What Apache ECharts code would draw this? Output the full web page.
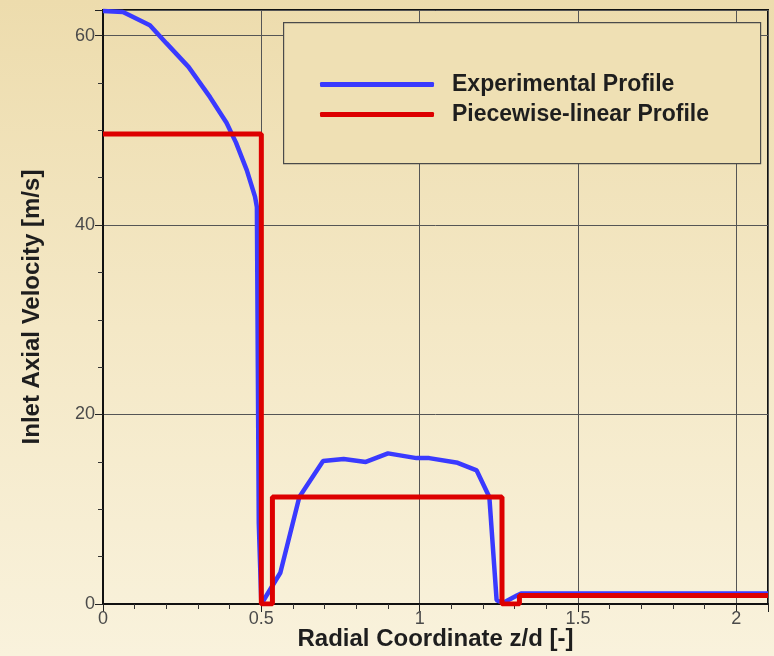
<!DOCTYPE html>
<html>
<head>
<meta charset="utf-8">
<script src="https://cdn.jsdelivr.net/npm/echarts@6/dist/echarts.min.js"></script>
<style>
html,body{margin:0;padding:0;}
#chart{width:774px;height:656px;}
</style>
</head>
<body>
<div id="chart"></div>
<script>
// Data
const seriesNames = ['Experimental Profile', 'Piecewise-linear Profile'];
const expX = [0, 0.063, 0.148, 0.20, 0.27, 0.338, 0.39, 0.42, 0.454, 0.48, 0.486, 0.489, 0.492, 0.50, 0.505, 0.56, 0.62, 0.695, 0.76, 0.83, 0.90, 0.99, 1.03, 1.12, 1.18, 1.22, 1.243, 1.263, 1.307, 1.32, 2.1];
const expY = [62.6, 62.5, 61.1, 59.2, 56.7, 53.5, 50.8, 48.7, 45.8, 43.0, 41.9, 25, 8.5, 0, 0.2, 3.3, 11.3, 15.1, 15.3, 15.0, 15.9, 15.4, 15.4, 14.9, 14.1, 11.3, 0.4, 0.1, 0.9, 1.1, 1.1];
const pwX = [0, 0.5, 0.5, 0.535, 0.535, 1.26, 1.26, 1.315, 1.315, 2.1];
const pwY = [49.6, 49.6, 0, 0, 11.3, 11.3, 0, 0, 0.9, 0.9];
const xTickLabels = ['0', '0.5', '1', '1.5', '2'];
const yTickLabels = ['0', '20', '40', '60'];

const font = '"Liberation Sans", Arial, sans-serif';
const chart = echarts.init(document.getElementById('chart'));
const zip = (xs, ys) => xs.map((x, i) => [x, ys[i]]);

chart.setOption({
  animation: false,
  backgroundColor: {
    type: 'linear', x: 0, y: 0, x2: 0, y2: 1,
    colorStops: [{offset: 0, color: '#eddcad'}, {offset: 0.5, color: '#f4e8c6'}, {offset: 1, color: '#f9f2dc'}]
  },
  grid: {left: 103, right: 6, top: 10, bottom: 52, outerBoundsMode: 'none', containLabel: false,
    show: true, borderColor: '#111', borderWidth: 2, backgroundColor: 'transparent'},
  graphic: [{
    type: 'rect', left: 283, top: 22, z: 5,
    shape: {width: 477, height: 141},
    style: {fill: '#efe0b4', stroke: '#4a4a4a', lineWidth: 1.2}
  }],
  legend: {
    orient: 'vertical', left: 315, top: 68, z: 10,
    itemWidth: 114, itemHeight: 5, itemGap: 7, icon: 'roundRect',
    textStyle: {fontFamily: font, fontWeight: 'bold', fontSize: 23, lineHeight: 23, color: '#1e1e1e', padding: [0, 0, 0, 13]},
    data: seriesNames
  },
  xAxis: {
    type: 'value', min: 0, max: 2.1, interval: 0.5,
    name: 'Radial Coordinate z/d [-]', nameLocation: 'middle', nameGap: 23, nameMoveOverlap: false,
    nameTextStyle: {fontFamily: font, fontWeight: 'bold', fontSize: 24, color: '#1e1e1e'},
    axisLine: {show: true, onZero: false, lineStyle: {color: '#111', width: 2}},
    axisTick: {show: true, inside: false, length: 8, lineStyle: {color: '#222', width: 1}},
    minorTick: {show: true, splitNumber: 5, length: 5, lineStyle: {color: '#333', width: 1}},
    axisLabel: {
      fontFamily: font, fontSize: 18, color: '#4a4a4a', margin: 6, showMaxLabel: false,
      formatter: v => { const s = String(+v.toFixed(2)); return xTickLabels.includes(s) ? s : ''; }
    },
    splitLine: {show: true, lineStyle: {color: '#555', width: 1}}
  },
  yAxis: {
    type: 'value', min: 0, max: 62.7, interval: 20,
    name: 'Inlet Axial Velocity [m/s]', nameLocation: 'middle', nameGap: 59, nameMoveOverlap: false,
    nameTextStyle: {fontFamily: font, fontWeight: 'bold', fontSize: 24, color: '#1e1e1e'},
    axisLine: {show: true, onZero: false, lineStyle: {color: '#111', width: 2}},
    axisTick: {show: true, inside: false, length: 8, lineStyle: {color: '#222', width: 1}},
    minorTick: {show: true, splitNumber: 4, length: 5, lineStyle: {color: '#333', width: 1}},
    axisLabel: {
      fontFamily: font, fontSize: 18, color: '#4a4a4a', margin: 8, showMaxLabel: false,
      formatter: v => { const s = String(+v.toFixed(1)); return yTickLabels.includes(s) ? s : ''; }
    },
    splitLine: {show: true, lineStyle: {color: '#555', width: 1}}
  },
  series: [
    {
      name: seriesNames[0], type: 'line', showSymbol: false, symbol: 'none', z: 3,
      itemStyle: {color: '#3a3aff'},
      lineStyle: {color: '#3a3aff', width: 4.5},
      data: zip(expX, expY)
    },
    {
      name: seriesNames[1], type: 'line', showSymbol: false, symbol: 'none', z: 4,
      itemStyle: {color: '#dd0000'},
      lineStyle: {color: '#dd0000', width: 5},
      data: zip(pwX, pwY)
    }
  ]
});
</script>
</body>
</html>
